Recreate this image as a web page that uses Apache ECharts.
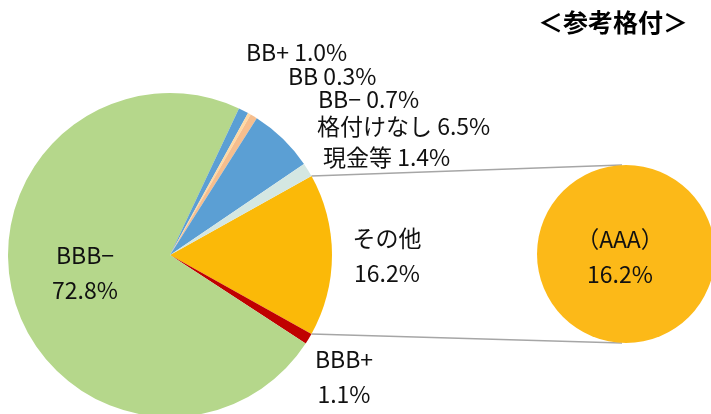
<!DOCTYPE html>
<html>
<head>
<meta charset="utf-8">
<script src="https://cdn.jsdelivr.net/npm/echarts@6/dist/echarts.min.js"></script>
<style>
  html, body { margin: 0; padding: 0; background: #fff; }
  #main { width: 711px; height: 414px; }
</style>
</head>
<body>
<div id="main"></div>
<script>
// 参考格付の構成比（％）
var names = ['その他', 'BBB+', 'BBB−', 'BB+', 'BB', 'BB−', '格付けなし', '現金等'];
var values = [16.2, 1.1, 72.8, 1.0, 0.3, 0.7, 6.5, 1.4];
var colors = ['#FBB908', '#C00000', '#B5D78B', '#5B9FD4', '#FFD9A3', '#F6BE8E', '#5B9FD4', '#D4E7E2'];
// その他の内訳
var subNames = ['（AAA）'];
var subValues = [16.2];

// label positions (layout only)
var labelPos = {
  'その他': { x: 387, y: 256, align: 'center' },
  'BBB+': { x: 344, y: 377, align: 'center' },
  'BBB−': { x: 85, y: 273, align: 'center' },
  'BB+': { x: 246, y: 52, align: 'left' },
  'BB': { x: 288, y: 76, align: 'left' },
  'BB−': { x: 318, y: 99, align: 'left' },
  '格付けなし': { x: 317, y: 126, align: 'left' },
  '現金等': { x: 323, y: 157, align: 'left' }
};
var twoLine = ['その他', 'BBB+', 'BBB−'];

var mainCenter = [170, 255], mainR = 162;
var subCenter = [626, 254], subR = 89;

var chart = echarts.init(document.getElementById('main'));

var total = values.reduce(function (a, b) { return a + b; }, 0);
var half = values[0] / total * Math.PI; // half angle of その他 slice
var font = '"Noto Sans CJK JP", sans-serif';

var pts = {
  top: [mainCenter[0] + mainR * Math.cos(half), mainCenter[1] - mainR * Math.sin(half)],
  bot: [mainCenter[0] + mainR * Math.cos(half), mainCenter[1] + mainR * Math.sin(half)]
};

var option = {
  animation: false,
  title: {
    text: '＜参考格付＞',
    right: 18,
    top: 5,
    textStyle: { fontFamily: font, fontSize: 25, fontWeight: 'bold', color: '#000' }
  },
  graphic: [
    {
      type: 'line', z: 1,
      shape: { x1: pts.top[0], y1: pts.top[1], x2: subCenter[0] - 4, y2: subCenter[1] - subR },
      style: { stroke: '#A6A6A6', lineWidth: 1.5 }
    },
    {
      type: 'line', z: 1,
      shape: { x1: pts.bot[0], y1: pts.bot[1], x2: subCenter[0] - 4, y2: subCenter[1] + subR },
      style: { stroke: '#A6A6A6', lineWidth: 1.5 }
    }
  ],
  series: [
    {
      type: 'pie',
      center: mainCenter,
      radius: mainR,
      startAngle: values[0] / total * 180,
      clockwise: true,
      silent: true,
      avoidLabelOverlap: false,
      data: names.map(function (n, i) {
        return { name: n, value: values[i], itemStyle: { color: colors[i] } };
      }),
      label: {
        show: true,
        position: 'outside',
        fontFamily: font,
        fontSize: 23,
        lineHeight: 35,
        color: '#111',
        formatter: function (p) {
          var v = p.value.toFixed(1) + '%';
          return twoLine.indexOf(p.name) >= 0 ? p.name + '\n' + v : p.name + ' ' + v;
        }
      },
      labelLine: { show: false },
      labelLayout: function (params) {
        var pos = labelPos[names[params.dataIndex]];
        return { x: pos.x, y: pos.y, align: pos.align, verticalAlign: 'middle', hideOverlap: false };
      }
    },
    {
      type: 'pie',
      center: subCenter,
      radius: subR,
      silent: true,
      data: subNames.map(function (n, i) {
        return { name: n, value: subValues[i], itemStyle: { color: '#FCB918' } };
      }),
      label: {
        show: true,
        position: 'center',
        offset: [-6, 3],
        fontFamily: font,
        fontSize: 23,
        lineHeight: 35,
        color: '#111',
        formatter: function (p) { return p.name + '\n' + p.value.toFixed(1) + '%'; }
      },
      labelLine: { show: false }
    }
  ]
};

chart.setOption(option);
</script>
</body>
</html>
